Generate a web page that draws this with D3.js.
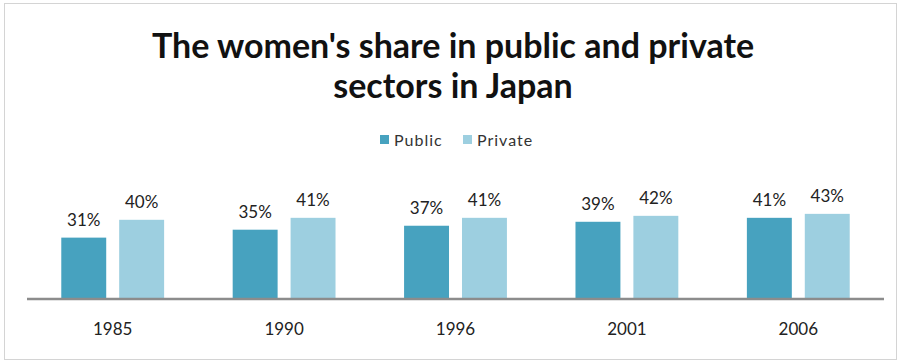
<!DOCTYPE html>
<html>
<head>
<meta charset="utf-8">
<script src="https://cdn.jsdelivr.net/npm/d3@7"></script>
<style>
  html, body { margin: 0; padding: 0; background: #fff; }
  svg { display: block; font-family: Lato, "Open Sans", sans-serif; }
</style>
</head>
<body>
<svg id="chart" width="905" height="364"></svg>
<script>
// Chart data
const years = ["1985", "1990", "1996", "2001", "2006"];
const seriesNames = ["Public", "Private"];
const publicShare = [31, 35, 37, 39, 41];
const privateShare = [40, 41, 41, 42, 43];
const titleLines = ["The women's share in public and private", "sectors in Japan"];

const colors = { Public: "#47a2bf", Private: "#9dcfe0" };

const svg = d3.select("#chart");

// outer frame
svg.append("rect")
  .attr("x", 4.5).attr("y", 3.5)
  .attr("width", 892).attr("height", 356)
  .attr("fill", "#fff")
  .attr("stroke", "#d4d4d4").attr("stroke-width", 1);

// title
const title = svg.append("g");
titleLines.forEach((t, i) => {
  title.append("text")
    .attr("x", 453).attr("y", 58 + i * 40)
    .attr("text-anchor", "middle")
    .attr("font-size", 34).attr("font-weight", 700)
    .attr("fill", "#111")
    .text(t);
});

// legend
const legendItems = [
  { name: "Public", x: 380 },
  { name: "Private", x: 463 }
];
const legend = svg.append("g");
legendItems.forEach(d => {
  legend.append("rect")
    .attr("x", d.x).attr("y", 135)
    .attr("width", 9).attr("height", 9)
    .attr("fill", colors[d.name]);
  legend.append("text")
    .attr("x", d.x + 14).attr("y", 146)
    .attr("font-size", 16).attr("letter-spacing", 1)
    .attr("fill", "#333")
    .text(d.name);
});

// scales
const x0 = d3.scaleBand().domain(years).range([27, 884]).paddingInner(0.4).paddingOuter(0.2);
const x1 = d3.scaleBand().domain(seriesNames).range([0, x0.bandwidth()]).paddingInner(0.224);
const y = d3.scaleLinear().domain([0, 50]).range([299, 200]);

const rows = years.map((yr, i) => ({ year: yr, Public: publicShare[i], Private: privateShare[i] }));

const groups = svg.append("g").selectAll("g")
  .data(rows).join("g")
  .attr("transform", d => `translate(${x0(d.year)},0)`);

groups.selectAll("rect")
  .data(d => seriesNames.map(s => ({ key: s, value: d[s] })))
  .join("rect")
  .attr("x", d => x1(d.key))
  .attr("y", d => y(d.value))
  .attr("width", x1.bandwidth())
  .attr("height", d => y(0) - y(d.value))
  .attr("fill", d => colors[d.key]);

groups.selectAll("text.val")
  .data(d => seriesNames.map(s => ({ key: s, value: d[s] })))
  .join("text")
  .attr("class", "val")
  .attr("x", d => x1(d.key) + x1.bandwidth() / 2)
  .attr("y", d => y(d.value) - 12)
  .attr("text-anchor", "middle")
  .attr("font-size", 17).attr("fill", "#222")
  .text(d => d.value + "%");

// category axis
const xAxis = svg.append("g")
  .attr("transform", `translate(0,${y(0)})`)
  .call(d3.axisBottom(x0).tickSize(0).tickPadding(24));
xAxis.select(".domain").attr("stroke", "#8c8c8c").attr("stroke-width", 2.5)
  .attr("d", "M27,0H884");
xAxis.selectAll("text")
  .attr("font-size", 17).attr("fill", "#222")
  .attr("font-family", "Lato, 'Open Sans', sans-serif");
</script>
</body>
</html>
